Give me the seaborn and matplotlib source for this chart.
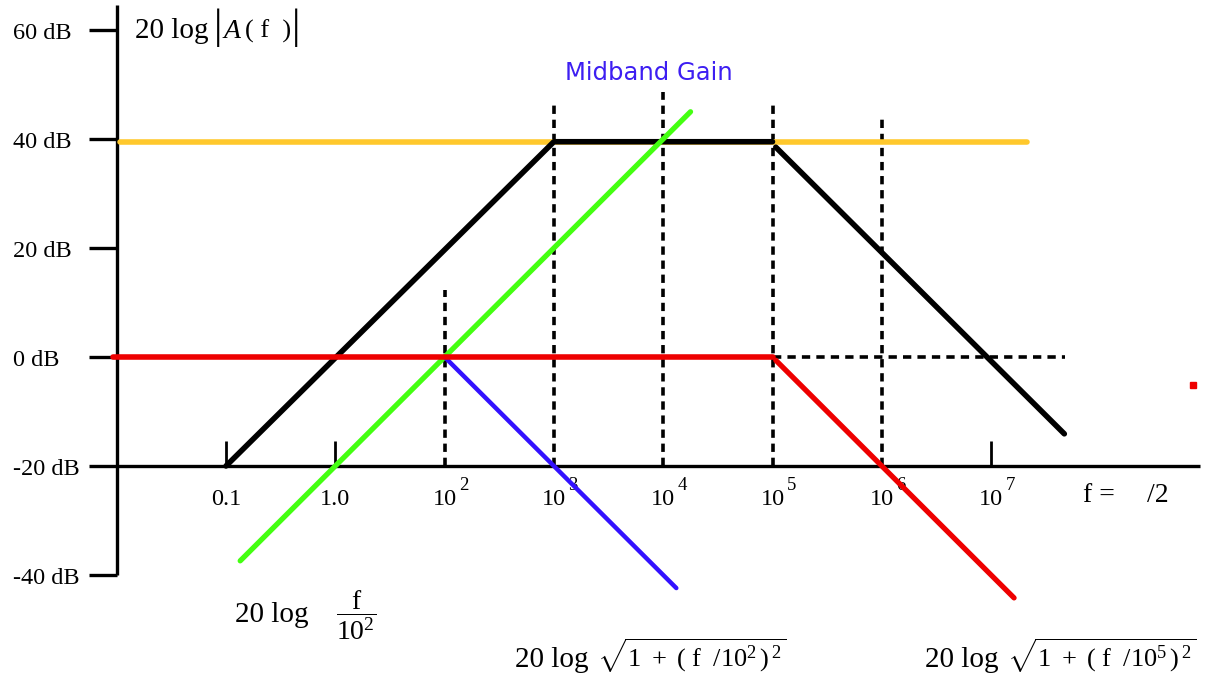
import matplotlib
matplotlib.use("Agg")
import matplotlib.pyplot as plt
import seaborn as sns
import pandas as pd

sns.set_theme(style="white")
plt.rcParams["font.family"] = ["Liberation Serif", "DejaVu Serif"]
plt.rcParams["text.color"] = "black"
plt.rcParams["mathtext.fontset"] = "custom"
plt.rcParams["mathtext.rm"] = "Liberation Serif"
plt.rcParams["mathtext.it"] = "Liberation Serif:italic"
plt.rcParams["mathtext.bf"] = "Liberation Serif:bold"

# ---- data (x in decades of frequency, y in dB) ----
decade_pos = [0, 1, 2, 3, 4, 5, 6, 7]
tick_base = ["0.1", "1.0", "10", "10", "10", "10", "10", "10"]
tick_exp = ["", "", "2", "3", "4", "5", "6", "7"]
db_ticks = [60, 40, 20, 0, -20, -40]
db_labels = ["60 dB", "40 dB", "20 dB", "0 dB", "-20 dB", "-40 dB"]

midband_db = 39.5
orange_x = [-0.97, 7.33]
orange_y = [midband_db, midband_db]

black_x = [0, 3, 5]
black_y = [-20, midband_db, midband_db]
black_tail_x = [5.03, 7.67]
black_tail_y = [38.5, -14.1]

green_x = [0.13, 4.25]
green_y = [-37.4, 45.0]

blue_x = [2, 4.12]
blue_y = [0, -42.4]

red_flat_x = [-1.03, 5]
red_flat_y = [0, 0]
red_tail_x = [5.03, 7.21]
red_tail_y = [-0.6, -44.2]

guide_x = [2, 3, 4, 5, 6]
guide_top = [12.3, 47.0, 48.6, 46.6, 43.9]
short_tick_x = [0, 1, 7]
short_tick_top = -15.4
zero_guide_x = [5, 7.68]
dot_x, dot_y = 8.85, -5.1

axis_x = -1.0
axis_top = 64.6
axis_right = 8.91
axis_floor = -20

# ---- figure ----
fig = plt.figure(figsize=(12.24, 6.77), dpi=100)
ax = fig.add_axes([0, 0, 1, 1])
ax.set_xlim(-2.0677, 9.1308)
ax.set_ylim(-58.716, 65.505)
ax.axis("off")

# axes drawn by hand
ax.plot([axis_x, axis_x], [axis_top, -40], color="black", lw=2.4, zorder=1,
        solid_capstyle="butt")
ax.plot([axis_x, axis_right], [axis_floor, axis_floor], color="black", lw=2.4,
        zorder=1, solid_capstyle="butt")
for v in db_ticks:
    ax.plot([axis_x - 0.25, axis_x], [v, v], color="black", lw=2.4, zorder=1,
            solid_capstyle="butt")
for xv in short_tick_x:
    ax.plot([xv, xv], [axis_floor, short_tick_top], color="black", lw=2.0,
            zorder=1, solid_capstyle="butt")

# dashed guides
for xv, top in zip(guide_x, guide_top):
    ax.plot([xv, xv], [axis_floor, top], color="black", lw=2.6, zorder=2,
            dashes=(2.3, 1.6))
ax.plot(zero_guide_x, [0, 0], color="black", lw=2.6, zorder=2, dashes=(2.3, 1.7))


def seg(x, y, color, lw, z):
    df = pd.DataFrame({"f": x, "dB": y})
    sns.lineplot(data=df, x="f", y="dB", color=color, lw=lw, ax=ax,
                 sort=False, estimator=None, zorder=z, legend=False)


seg(orange_x, orange_y, "#FFC82C", 4.0, 3)
seg(black_x, black_y, "black", 4.0, 4)
seg(black_tail_x, black_tail_y, "black", 4.0, 4)
seg(green_x, green_y, "#44FF11", 3.8, 5)
seg(blue_x, blue_y, "#3311FF", 3.2, 5)
seg(red_flat_x, red_flat_y, "#EE0000", 4.0, 6)
seg(red_tail_x, red_tail_y, "#EE0000", 3.8, 6)
ax.plot([dot_x], [dot_y], marker="s", ms=4, color="#EE0000", lw=0, zorder=6)

ax.set_xlabel("")
ax.set_ylabel("")

# ---- text ----
fs = 17.5
for v, lab in zip(db_ticks, db_labels):
    ax.text(-1.949, v - 1.65, lab, fontsize=fs, ha="left", va="baseline")

for xv, base, ex in zip(decade_pos, tick_base, tick_exp):
    ax.text(xv, -27.16, base, fontsize=fs, ha="center", va="baseline")
    if ex:
        ax.annotate(ex, xy=(xv, -27.16), xytext=(10.5, 11.0),
                    textcoords="offset points", fontsize=13.5,
                    ha="left", va="baseline")

ax.text(7.84, -26.6, "f =", fontsize=20, ha="left", va="baseline")
ax.text(8.43, -26.6, "/2", fontsize=20, ha="left", va="baseline")

# vertical-axis title: 20 log |A(f)|
ax.text(-0.8326, 58.53, "20 log", fontsize=21, ha="left", va="baseline")
ax.text(-0.0686, 60.4, "|", fontsize=30, ha="center", va="center")
ax.text(-0.0183, 58.53, "A", fontsize=20, style="italic", ha="left",
        va="baseline")
ax.text(0.174, 58.53, "( f  )", fontsize=19, ha="left", va="baseline")
ax.text(0.638, 60.4, "|", fontsize=30, ha="center", va="center")

ax.text(3.87, 50.8, "Midband Gain", fontsize=17.5, color="#3D1EF2",
        family="DejaVu Sans", ha="center", va="baseline")

# asymptote formulas
ax.text(0.0823, -48.62, "20 log", fontsize=21, ha="left", va="baseline")
ax.text(1.189, -47.4, r"$\dfrac{\mathrm{f}}{10^{2}}$", fontsize=20,
        ha="center", va="center")

radical = r"$\sqrt{1\ +\ (\ \mathrm{f}\ \ /10^{%d}\,)^{\,2}}$"
ax.text(2.644, -56.88, "20 log", fontsize=21, ha="left", va="baseline")
ax.text(3.394, -56.88, radical % 2, fontsize=19, ha="left", va="baseline")
ax.text(6.395, -56.88, "20 log", fontsize=21, ha="left", va="baseline")
ax.text(7.145, -56.88, radical % 5, fontsize=19, ha="left", va="baseline")

fig.savefig("out.png", dpi=100)
